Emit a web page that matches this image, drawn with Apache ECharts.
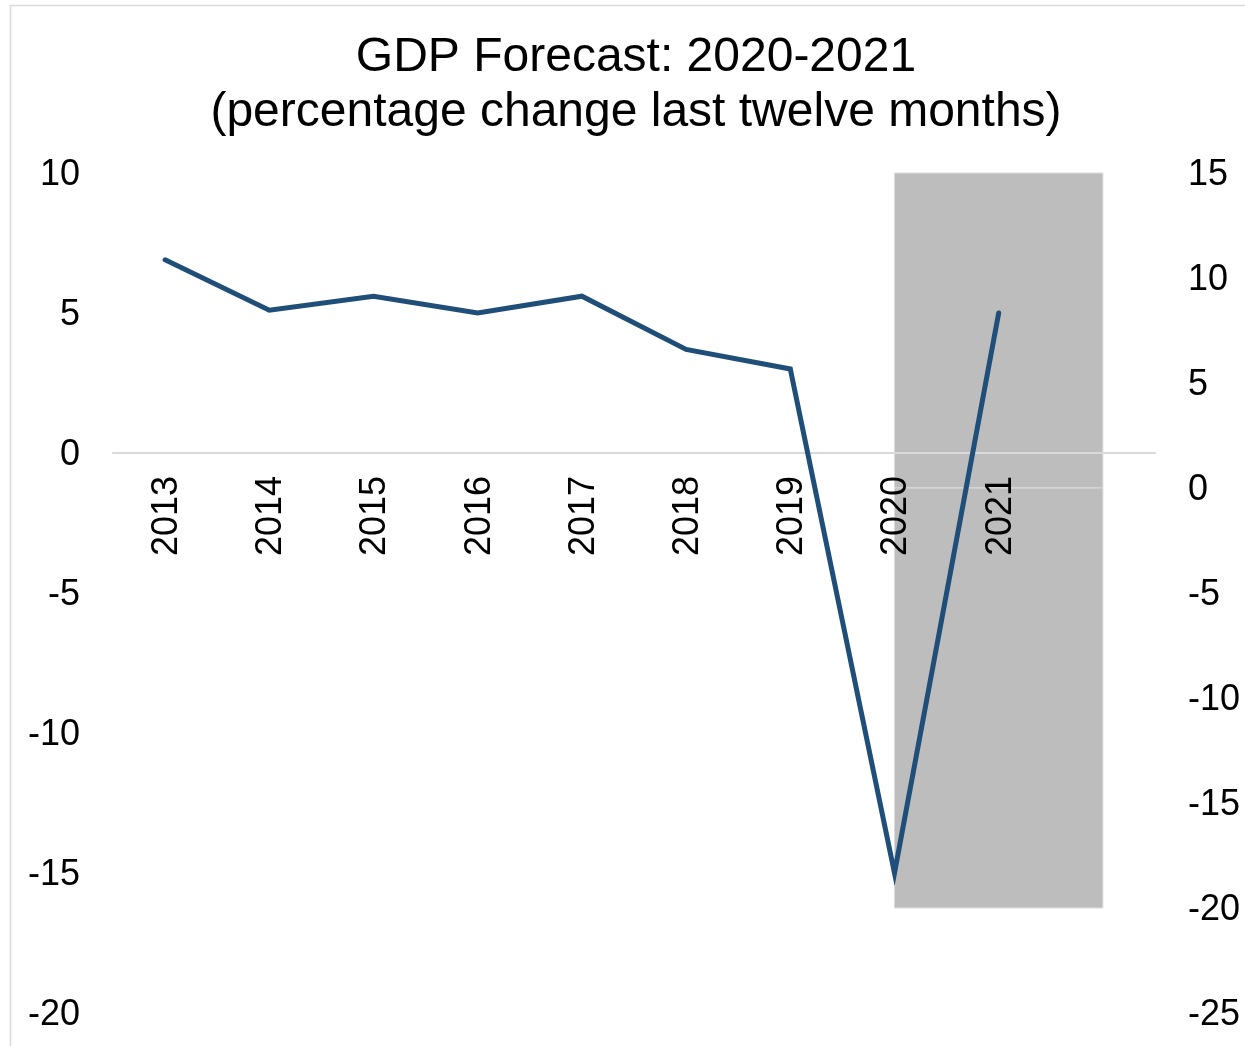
<!DOCTYPE html>
<html>
<head>
<meta charset="utf-8">
<title>GDP Forecast: 2020-2021</title>
<script src="https://cdn.jsdelivr.net/npm/echarts@6/dist/echarts.min.js"></script>
<style>
  html, body { margin: 0; padding: 0; background: #ffffff; }
  #chart { width: 1245px; height: 1046px; }
</style>
</head>
<body>
<div id="chart"></div>
<script>
// Years on the category axis; the trailing blank slot closes the forecast band.
var years = ['2013', '2014', '2015', '2016', '2017', '2018', '2019', '2020', '2021', ''];
// GDP growth, percentage change last twelve months.
var gdpGrowth = [6.9, 5.1, 5.6, 5.0, 5.6, 3.7, 3.0, -15.0, 5.0];
// Forecast band: first and last slot, and its extent on the right-hand axis.
var forecastFrom = '2020';
var forecastToIndex = 9;
var forecastTop = 15;
var forecastBottom = -20;
// Axis ranges.
var leftAxis = { min: -20, max: 10, step: 5 };
var rightAxis = { min: -25, max: 15, step: 5 };

var FONT = "'Liberation Sans', Arial, Helvetica, sans-serif";
var fromIndex = years.indexOf(forecastFrom);

// Plot area in pixels.
var GRID = { left: 113, right: 90, top: 173, bottom: 33 };
var plotHeight = 1046 - GRID.top - GRID.bottom;
// The category axis crosses the left axis at zero: lift it from the bottom edge.
var zeroLift = plotHeight * (0 - leftAxis.min) / (leftAxis.max - leftAxis.min);

// Tick label text, nudged a little below its tick.
var tickText = {
  formatter: '{v|{value}}',
  rich: { v: { fontSize: 36, fontFamily: FONT, color: '#000000', padding: [4, 0, 0, 0] } }
};

var chart = echarts.init(document.getElementById('chart'), null, { renderer: 'canvas' });

chart.setOption({
  backgroundColor: '#ffffff',
  animation: false,
  textStyle: { fontFamily: FONT },
  title: {
    text: 'GDP Forecast: 2020-2021\n(percentage change last twelve months)',
    left: 631,
    top: 25,
    textAlign: 'center',
    textStyle: {
      fontFamily: FONT,
      fontSize: 48,
      fontWeight: 'normal',
      lineHeight: 55,
      color: '#000000'
    }
  },
  graphic: [{
    type: 'rect',
    silent: true,
    shape: { x: 10.5, y: 5.5, width: 1400, height: 1200 },
    style: { fill: 'none', stroke: '#D9D9D9', lineWidth: 1.5 }
  }],
  grid: {
    left: GRID.left,
    right: GRID.right,
    top: GRID.top,
    bottom: GRID.bottom,
    outerBoundsMode: 'none'
  },
  xAxis: {
    type: 'category',
    data: years,
    boundaryGap: true,
    position: 'bottom',
    offset: -zeroLift,
    z: 3,
    axisLine: { onZero: false, lineStyle: { color: '#D9D9D9', width: 2 } },
    axisTick: { show: false },
    splitLine: { show: false },
    axisLabel: Object.assign({
      rotate: 90,
      margin: 23,
      interval: 0,
      fontSize: 36,
      fontFamily: FONT,
      color: '#000000'
    }, tickText)
  },
  yAxis: [{
    type: 'value',
    position: 'left',
    min: leftAxis.min,
    max: leftAxis.max,
    interval: leftAxis.step,
    axisLine: { show: false },
    axisTick: { show: false },
    splitLine: { show: false },
    axisLabel: Object.assign({ margin: 33, fontSize: 36, fontFamily: FONT, color: '#000000' }, tickText)
  }, {
    type: 'value',
    position: 'right',
    min: rightAxis.min,
    max: rightAxis.max,
    interval: rightAxis.step,
    axisLine: { show: false },
    axisTick: { show: false },
    splitLine: { show: false },
    axisLabel: Object.assign({ margin: 33, fontSize: 36, fontFamily: FONT, color: '#000000' }, tickText)
  }],
  series: [{
    name: 'Forecast',
    type: 'line',
    yAxisIndex: 1,
    z: 1,
    data: [],
    symbol: 'none',
    silent: true,
    markArea: {
      silent: true,
      itemStyle: { color: '#BDBDBD', borderColor: '#DCDCDC', borderWidth: 1 },
      data: [
        [{ xAxis: fromIndex, yAxis: forecastTop }, { xAxis: forecastToIndex, yAxis: 0 }],
        [{ xAxis: fromIndex, yAxis: 0 }, { xAxis: forecastToIndex, yAxis: forecastBottom }]
      ]
    }
  }, {
    name: 'GDP',
    type: 'line',
    yAxisIndex: 0,
    z: 5,
    data: gdpGrowth,
    symbol: 'none',
    lineStyle: { color: '#1F4E79', width: 5, cap: 'round', join: 'miter' }
  }]
});
</script>
</body>
</html>
